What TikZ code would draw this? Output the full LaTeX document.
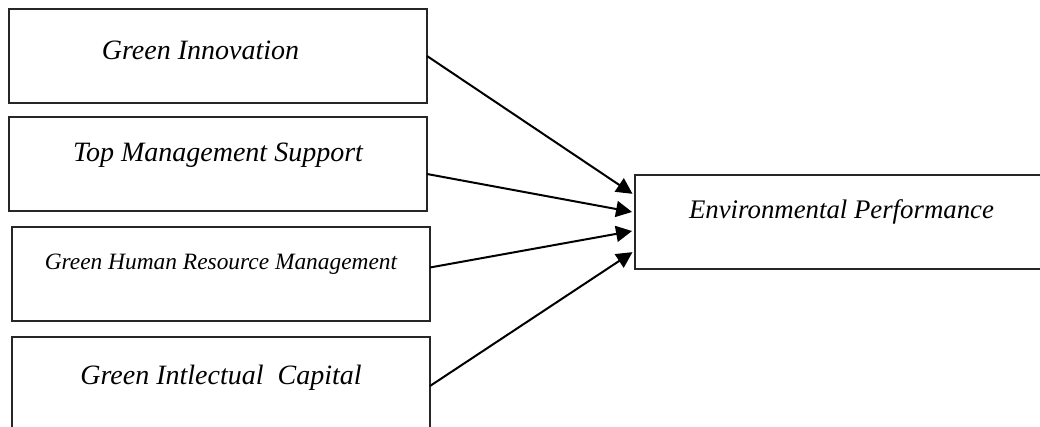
\documentclass[tikz,border=0pt]{standalone}
\usepackage{fontspec}
\setmainfont{Liberation Serif}
\usetikzlibrary{arrows.meta, positioning}
\tikzset{
  factorbox/.style={draw=black!85, line width=1pt, outer sep=0pt,
    minimum width=209pt, minimum height=47pt, inner sep=0pt,
    font=\itshape\fontsize{14}{16}\selectfont},
  outcomebox/.style={draw=black!85, line width=1pt, outer sep=0pt,
    minimum width=206.5pt, minimum height=47pt, inner sep=0pt,
    font=\itshape\fontsize{13.4}{16}\selectfont},
  linkarrow/.style={-{Triangle[length=8pt,width=8pt]}, line width=1pt,
    shorten >=1.5pt}
}

\begin{document}
\begin{tikzpicture}

  \useasboundingbox (0,0) rectangle (520pt,-213.5pt);
  \clip (0,0) rectangle (520pt,-213.5pt);

  % predictors
  \node[factorbox, anchor=north west, text height=25.5pt, text depth=21.5pt]
      (gi) at (4.5pt,-4.5pt) {Green Innovation\hspace*{17.5pt}};
  \node[factorbox, below=7pt of gi, text height=22.5pt, text depth=24.5pt]
      (tms) {Top Management Support};
  \node[factorbox, below=8pt of tms, xshift=1.5pt, text height=21.25pt, text depth=25.75pt,
      font=\itshape\fontsize{11.7}{14}\selectfont]
      (ghrm) {Green Human Resource Management};
  \node[factorbox, below=8pt of ghrm, text height=24pt, text depth=23pt]
      (gic) {Green Intlectual\ \ Capital};

  % outcome
  \node[outcomebox, anchor=north west, text height=22pt, text depth=25pt]
      (ep) at (317.5pt,-87.5pt) {Environmental Performance};

  \draw[linkarrow] (gi.east) -- ([yshift=13.25pt]ep.west);
  \draw[linkarrow] ([yshift=-5pt]tms.east) -- ([yshift=4.75pt]ep.west);
  \draw[linkarrow] ([yshift=3.25pt]ghrm.east) -- ([yshift=-4.25pt]ep.west);
  \draw[linkarrow] ([yshift=-1pt]gic.east) -- ([yshift=-14.25pt]ep.west);

\end{tikzpicture}
\end{document}
